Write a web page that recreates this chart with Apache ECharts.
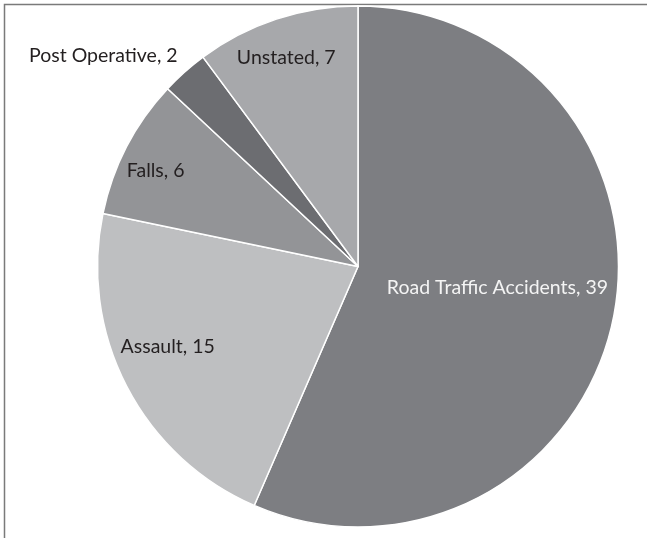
<!DOCTYPE html>
<html>
<head>
<meta charset="utf-8">
<script src="https://cdn.jsdelivr.net/npm/echarts@6/dist/echarts.min.js"></script>
<style>
  html, body { margin: 0; padding: 0; background: #fff; }
  #chart { width: 647px; height: 538px; }
</style>
</head>
<body>
<div id="chart"></div>
<script>
// causes of injury, counts
const causes = ['Road Traffic Accidents', 'Assault', 'Falls', 'Post Operative', 'Unstated'];
const counts = [39, 15, 6, 2, 7];

const sliceColors = ['#7d7e82', '#bebfc1', '#939497', '#6c6d71', '#a7a8ab'];
const labelColors = ['#f4f4f4', '#231f20', '#231f20', '#231f20', '#231f20'];
// nudge of each label away from the default "inside" spot
const labelShift = [[9, -6], [-72, 19], [-84, -34], [-166, -111], [-30, -82]];

const chart = echarts.init(document.getElementById('chart'));
chart.setOption({
  backgroundColor: '#fff',
  animation: false,
  graphic: [{
    type: 'polyline',
    shape: { points: [[4.5, 538], [4.5, 4.5], [647, 4.5]] },
    style: { stroke: '#7a7a7a', lineWidth: 1.5, fill: null }
  }],
  series: [{
    type: 'pie',
    center: [358, 266.5],
    radius: 260.5,
    startAngle: 90,
    clockwise: true,
    silent: true,
    itemStyle: { borderColor: '#fff', borderWidth: 1.5 },
    label: {
      show: true,
      position: 'inside',
      fontFamily: 'Lato',
      fontSize: 19.5,
      formatter: p => p.name + ', ' + p.value
    },
    labelLine: { show: false },
    labelLayout: p => ({ dx: labelShift[p.dataIndex][0], dy: labelShift[p.dataIndex][1] }),
    data: causes.map((c, i) => ({
      name: c,
      value: counts[i],
      itemStyle: { color: sliceColors[i] },
      label: { color: labelColors[i] }
    }))
  }]
});
</script>
</body>
</html>
